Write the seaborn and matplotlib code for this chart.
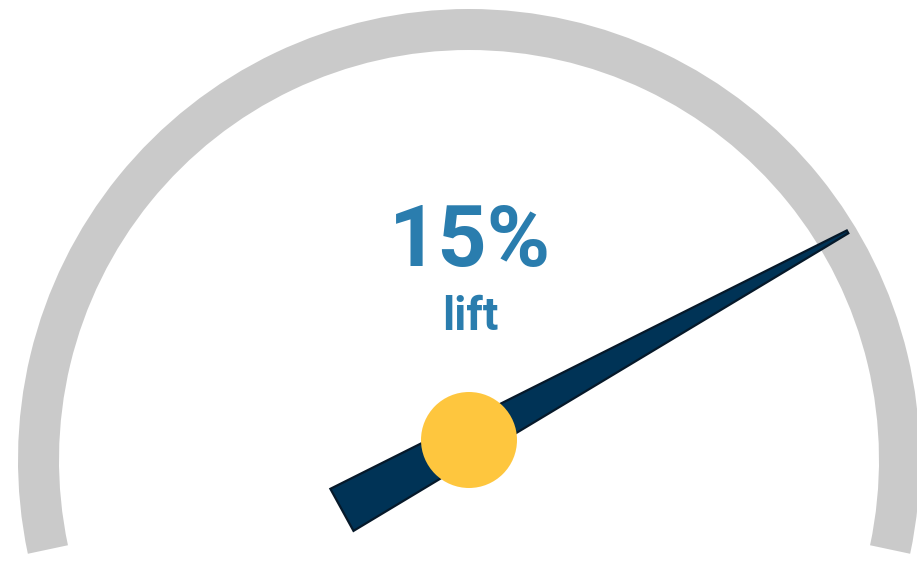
import numpy as np
import pandas as pd
import matplotlib
matplotlib.use("Agg")
import matplotlib.pyplot as plt
from matplotlib.patches import Wedge, Polygon
import seaborn as sns

# ---- data ----
value = [15]
value_min = [-25]
value_max = [25]
value_labels = ["15%"]
sub_labels = ["lift"]

sns.set_theme(style="white")
plt.rcParams["font.family"] = ["Roboto", "DejaVu Sans"]

W, H = 917, 564
fig = plt.figure(figsize=(W / 100, H / 100), dpi=100)
ax = fig.add_axes([0, 0, 1, 1])
ax.set_xlim(0, W)
ax.set_ylim(0, H)
ax.set_aspect("equal")
ax.axis("off")

# gauge geometry (pixel-like units, y up)
arc_center = (469, 104)
r_out, thick = 451, 41
ang_start, ang_end = 192.0, -12.0
pivot = (469, 124)

ax.add_patch(Wedge(arc_center, r_out, ang_end, ang_start, width=thick,
                   facecolor="#cacaca", edgecolor="none", zorder=1))

frac = (value[0] - value_min[0]) / (value_max[0] - value_min[0])
ang = np.deg2rad(ang_start + frac * (ang_end - ang_start))
d = np.array([np.cos(ang), np.sin(ang)])
n = np.array([-d[1], d[0]])
p = np.array(pivot, dtype=float)
tip_len, tail_len = 432, 145
tip_hw, tail_hw = 1.6, 24
pts = [p + d * tip_len + n * tip_hw,
       p + d * tip_len - n * tip_hw,
       p - d * tail_len - n * tail_hw,
       p - d * tail_len + n * tail_hw]
ax.add_patch(Polygon(pts, closed=True, facecolor="#003356", edgecolor="#06192a",
                     linewidth=1.6, joinstyle="miter", zorder=2))

hub = pd.DataFrame({"x": [pivot[0]], "y": [pivot[1]]})
sns.scatterplot(data=hub, x="x", y="y", s=(48 * 2 * 0.72) ** 2, color="#fec63e",
                edgecolor="none", linewidth=0, ax=ax, zorder=3, legend=False)
ax.set_xlim(0, W)
ax.set_ylim(0, H)
ax.axis("off")

ax.text(470, H - 266, value_labels[0], ha="center", va="baseline",
        fontsize=62, fontweight="bold", color="#2a7dae", zorder=4)
ax.text(470, H - 330, sub_labels[0], ha="center", va="baseline",
        fontsize=33, fontweight="bold", color="#2a7dae", zorder=4)

fig.savefig("out.png", dpi=100, facecolor="white")
